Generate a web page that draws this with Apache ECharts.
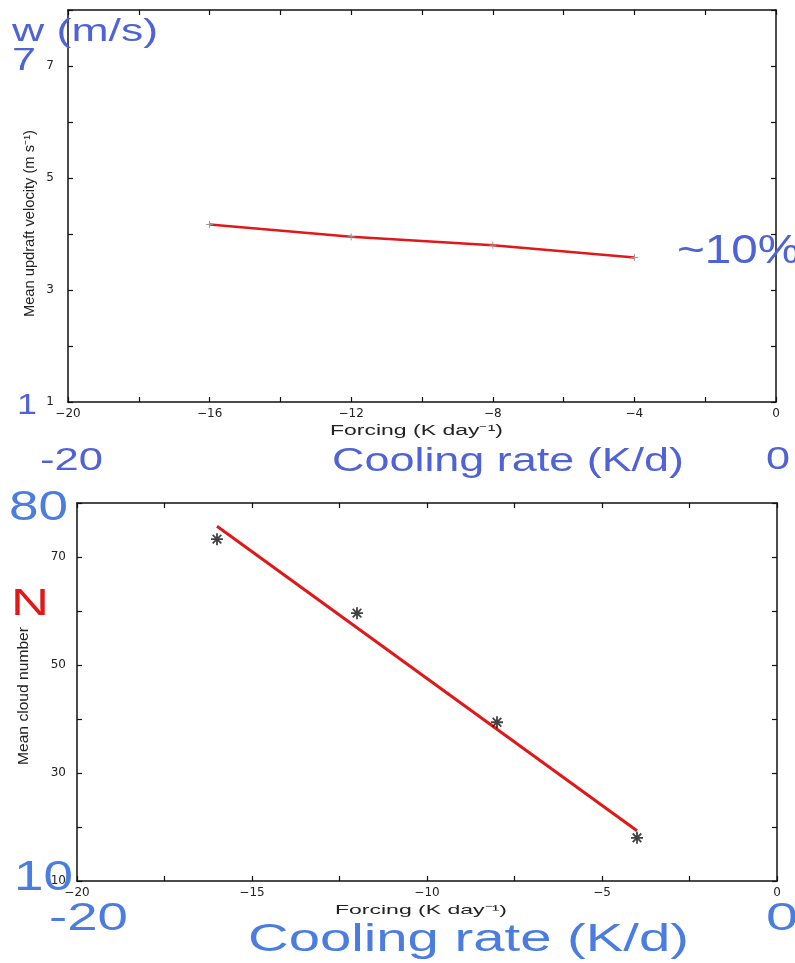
<!DOCTYPE html>
<html>
	<head>
		<meta charset="UTF-8">
		<title>Updraft velocity and cloud number vs forcing</title>
		<style>
			html, body { margin: 0; padding: 0; background: #fff; }
			#chart { width: 795px; height: 963px; }
		</style>
	</head>
	<body>
		<div id="chart"></div>
	</body>
	<script src="https://cdn.jsdelivr.net/npm/echarts@6/dist/echarts.min.js" type="text/javascript" charset="utf-8"></script>
	<script type="text/javascript">
		// top panel: mean updraft velocity
		var forcingW = [-16, -12, -8, -4];
		var updraftW = [4.17, 3.95, 3.80, 3.58];
		// bottom panel: mean cloud number (points and fitted line)
		var forcingN = [-16, -12, -8, -4];
		var cloudN = [73.3, 59.6, 39.4, 18.0];
		var fitForcingN = [-16, -4];
		var fitCloudN = [75.7, 19.3];

		// tick labels that are printed
		var topXLabels = [-20, -16, -12, -8, -4, 0];
		var topYLabels = [1, 3, 5, 7];
		var botXLabels = [-20, -15, -10, -5, 0];
		var botYLabels = [10, 30, 50, 70];

		var blueTop = '#4f63d6';
		var blueBot = '#4a7ddf';
		var red = '#e01818';

		var chart = echarts.init(document.getElementById('chart'));

		// width of a text so the stretched look of the figure can be copied
		var ctx = document.createElement('canvas').getContext('2d');
		function textW(text, font) {
			ctx.font = font;
			return ctx.measureText(text).width;
		}
		function fitText(text, x1, x2, cy, size, color) {
			var font = size + 'px "Liberation Sans", Arial, sans-serif';
			return {
				type: 'text', x: x1, y: cy, z: 100,
				scaleX: (x2 - x1) / textW(text, font),
				style: { text: text, font: font, fill: color, textAlign: 'left', textVerticalAlign: 'middle' }
			};
		}
		function vertText(text, cx, y1, y2, size) {
			var font = size + 'px "Liberation Sans", Arial, sans-serif';
			return {
				type: 'text', x: cx, y: (y1 + y2) / 2, z: 100,
				rotation: Math.PI / 2,
				scaleX: (y2 - y1) / textW(text, font),
				style: { text: text, font: font, fill: '#222', textAlign: 'center', textVerticalAlign: 'middle' }
			};
		}

		function labelFmt(list) {
			return function (v) {
				if (list.indexOf(v) < 0) return '';
				return v < 0 ? '\u2212' + Math.abs(v) : String(v);
			};
		}

		var lineStyle = { color: '#111', width: 1.5 };
		var labelFont = { fontFamily: 'DejaVu Sans', fontSize: 12, color: '#222' };

		function xAx(grid, pos, min, max, step, labels) {
			return {
				type: 'value', gridIndex: grid, position: pos, min: min, max: max, interval: step,
				axisLine: { show: true, onZero: false, lineStyle: lineStyle },
				axisTick: { show: true, inside: true, length: 5, lineStyle: { color: '#111', width: 1.2 } },
				axisLabel: labels ? Object.assign({ show: true, margin: 6, showMinLabel: true, showMaxLabel: true, formatter: labelFmt(labels) }, labelFont) : { show: false },
				splitLine: { show: false }
			};
		}
		function yAx(grid, pos, min, max, step, labels, margin) {
			return {
				type: 'value', gridIndex: grid, position: pos, min: min, max: max, interval: step,
				axisLine: { show: true, onZero: false, lineStyle: lineStyle },
				axisTick: { show: true, inside: true, length: 5, lineStyle: { color: '#111', width: 1.2 } },
				axisLabel: labels ? Object.assign({ show: true, margin: margin, showMinLabel: true, showMaxLabel: true, formatter: labelFmt(labels) }, labelFont) : { show: false },
				splitLine: { show: false }
			};
		}

		function pairs(xs, ys) {
			return xs.map(function (x, i) { return [x, ys[i]]; });
		}

		var starPath = 'path://M0,-6L0,6M-6,0L6,0M-4.3,-4.3L4.3,4.3M-4.3,4.3L4.3,-4.3';
		var plusPath = 'path://M0,-4L0,4M-4,0L4,0';

		var option = {
			animation: false,
			backgroundColor: '#fff',
			grid: [
				{ left: 68, right: 19, top: 10, height: 392 },
				{ left: 77, right: 18, top: 503, height: 378 }
			],
			xAxis: [
				xAx(0, 'bottom', -20, 0, 2, topXLabels),
				xAx(0, 'top', -20, 0, 2, null),
				xAx(1, 'bottom', -20, 0, 2.5, botXLabels),
				xAx(1, 'top', -20, 0, 2.5, null)
			],
			yAxis: [
				yAx(0, 'left', 1, 8, 1, topYLabels, 14),
				yAx(0, 'right', 1, 8, 1, null),
				yAx(1, 'left', 10, 80, 10, botYLabels, 11),
				yAx(1, 'right', 10, 80, 10, null)
			],
			series: [
				{
					type: 'line', xAxisIndex: 0, yAxisIndex: 0,
					data: pairs(forcingW, updraftW),
					lineStyle: { color: red, width: 2.5 },
					symbol: plusPath, symbolSize: 7,
					itemStyle: { color: 'none', borderColor: '#999', borderWidth: 1 }
				},
				{
					type: 'line', xAxisIndex: 2, yAxisIndex: 2,
					data: pairs(fitForcingN, fitCloudN),
					lineStyle: { color: red, width: 3 },
					symbol: 'none'
				},
				{
					type: 'scatter', xAxisIndex: 2, yAxisIndex: 2,
					data: pairs(forcingN, cloudN),
					symbol: starPath, symbolSize: 12,
					itemStyle: { color: 'none', borderColor: '#111', borderWidth: 1.8 },
					z: 3
				}
			],
			graphic: [
				// small panel titles
				fitText('Forcing (K day\u207B\u00B9)', 330, 503, 431, 14, '#222'),
				vertText('Mean updraft velocity (m s\u207B\u00B9)', 30, 130, 317, 14),
				fitText('Forcing (K day\u207B\u00B9)', 335, 507, 910, 13, '#222'),
				vertText('Mean cloud number', 24, 627, 765, 14),
				// blue notes on the top panel
				fitText('w (m/s)', 12, 158, 32, 31, blueTop),
				fitText('7', 12, 36, 61, 31, blueTop),
				fitText('1', 17, 37, 406, 30, blueTop),
				fitText('-20', 40, 103, 461, 32, blueTop),
				fitText('Cooling rate (K/d)', 332, 684, 462, 33, blueTop),
				fitText('0', 766, 790, 460, 32, blueTop),
				fitText('~10%', 677, 800, 252, 40, blueTop),
				// notes on the bottom panel
				fitText('80', 9, 68, 508, 42, blueBot),
				fitText('N', 11, 49, 605, 36, red),
				fitText('10', 14, 73, 878, 42, blueBot),
				fitText('-20', 49, 128, 919, 39, blueBot),
				fitText('Cooling rate (K/d)', 248, 689, 941, 38, blueBot),
				fitText('0', 766, 798, 919, 39, blueBot)
			]
		};

		chart.setOption(option);

		window.onresize = function () {
			chart.resize();
		};
	</script>
</html>
